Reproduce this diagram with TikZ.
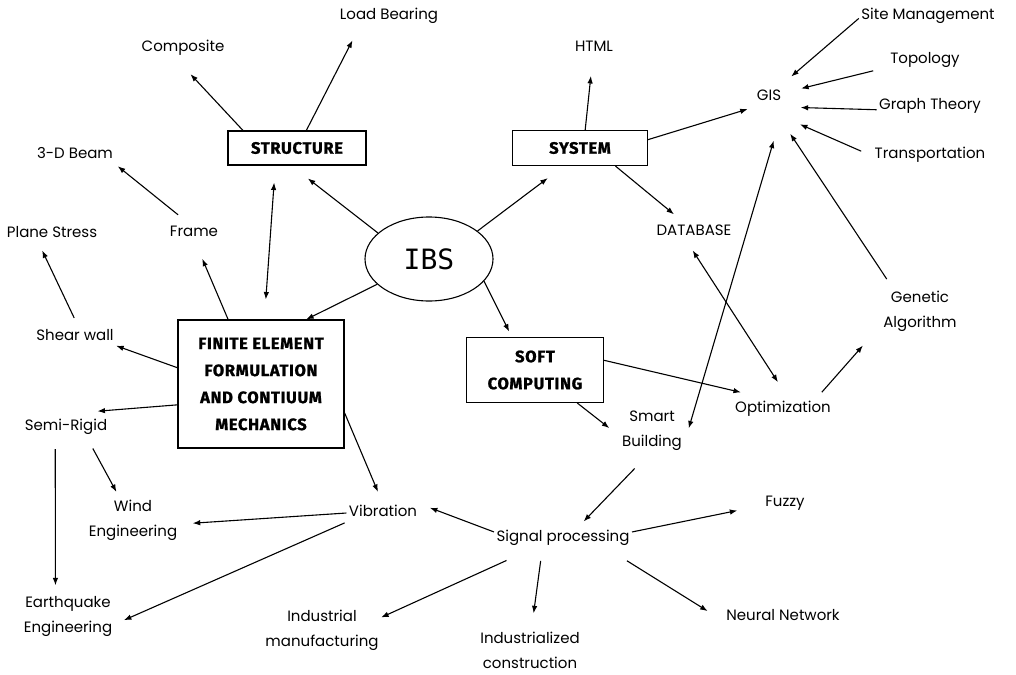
\documentclass[tikz,border=0pt]{standalone}
\usepackage{fontspec}
\setmainfont{Poppins}
\newfontfamily\boxfont[FakeBold=1.2,LetterSpace=4]{Fira Sans}
\newfontfamily\ibsfont{DejaVu Sans Mono}
\usetikzlibrary{arrows.meta,shapes.geometric}

\begin{document}
\begin{tikzpicture}[
    x=1pt, y=-1pt,
    >={Latex[length=7.5pt,width=5.5pt]},
    line width=1.1pt,
    lbl/.style={
        font=\fontsize{15}{25}\selectfont,
        inner sep=2pt,
        text height=11pt,
        text depth=4pt
    },
    lbltwo/.style={
        font=\fontsize{15}{25}\selectfont,
        inner sep=2pt,
        align=center
    },
    box/.style={
        draw,
        rectangle,
        font=\boxfont\fontsize{16.5}{27}\selectfont\bfseries,
        align=center,
        inner sep=0pt
    },
    link/.style={->}
    ]
    \useasboundingbox (0,0) rectangle (1016,674);

    % centre
    \node[draw, ellipse, minimum width=128pt, minimum height=84pt,
          font=\ibsfont\fontsize{28}{30}\selectfont] (IBS) at (429,259) {IBS};

    \node[box, minimum width=138pt, minimum height=34pt] (STRUCT) at (297,148) {STRUCTURE};
    \node[box, minimum width=135pt, minimum height=35pt] (SYSTEM) at (580,148) {SYSTEM};
    \node[box, minimum width=166pt, minimum height=128pt] (FEM) at (261,384)
        {FINITE ELEMENT\\FORMULATION\\AND CONTIUUM\\MECHANICS};
    \node[box, minimum width=137pt, minimum height=65pt] (SOFT) at (535,370) {SOFT\\COMPUTING};

    \node[lbl] (LOAD)   at (389,16)  {Load Bearing};
    \node[lbl] (COMP)   at (183,48)  {Composite};
    \node[lbl] (HTML)   at (594,48)  {HTML};
    \node[lbl] (SITE)   at (928,16)  {Site Management};
    \node[lbl] (TOPO)   at (925,60)  {Topology};
    \node[lbl] (GIS)    at (769,97)  {GIS};
    \node[lbl] (GRAPH)  at (930,106) {Graph Theory};
    \node[lbl] (TRANS)  at (930,155) {Transportation};
    \node[lbl] (BEAM)   at (75,155)  {3-D Beam};
    \node[lbl] (PLANE)  at (52,234)  {Plane Stress};
    \node[lbl] (FRAME)  at (194,233) {Frame};
    \node[lbl] (DBASE)  at (694,232) {DATABASE};
    \node[lbltwo] (GENETIC) at (920,311) {Genetic\\Algorithm};
    \node[lbl] (SHEAR)  at (75,337)  {Shear wall};
    \node[lbl] (SEMI)   at (66,427)  {Semi-Rigid};
    \node[lbltwo] (SMART) at (652,431) {Smart\\Building};
    \node[lbl] (OPTIM)  at (783,409) {Optimization};
    \node[lbltwo] (WIND) at (133,520) {Wind\\Engineering};
    \node[lbl] (VIB)    at (383,513) {Vibration};
    \node[lbl] (FUZZY)  at (785,503) {Fuzzy};
    \node[lbl] (SIGNAL) at (563,538) {Signal processing};
    \node[lbltwo] (QUAKE)  at (68,616)  {Earthquake\\Engineering};
    \node[lbltwo] (INDMAN) at (322,630) {Industrial\\manufacturing};
    \node[lbltwo] (INDCON) at (530,650) {Industrialized\\construction};
    \node[lbl] (NEURAL) at (783,617) {Neural Network};

    % from the centre
    \draw[link, shorten >=21pt] (IBS.153) -- (STRUCT.-108);
    \draw[link, shorten >=20pt] (IBS.30) -- (SYSTEM.-132);
    \draw[link] (IBS.-154) -- (FEM.55);
    \draw[link, shorten >=6pt] (IBS.-22) -- (SOFT.125);

    % structure side
    \draw[<->, shorten <=17pt, shorten >=20pt] (STRUCT.-141) -- (FEM.87);
    \draw[link, shorten >=22pt] (STRUCT.162) -- (COMP.-127);
    \draw[link, shorten >=16pt] (STRUCT.62) -- (LOAD.-161);
    \draw[link, shorten <=13pt, shorten >=3pt] (FRAME.120) -- (BEAM.-13);
    \draw[link, shorten >=17pt] (FEM.117) -- (FRAME.-81);
    \draw[link, shorten <=10pt, shorten >=7pt] (SHEAR.71) -- (PLANE.-142);
    \draw[link] (FEM.169) -- (SHEAR.-12);
    \draw[link, shorten >=72pt] (FEM.-166) -- (SEMI.166);
    \draw[link, shorten <=13pt, shorten >=6pt] (SEMI.-26) -- (WIND.121);
    \draw[link, shorten <=12pt, shorten >=8pt] (SEMI.-137) -- (QUAKE.119);
    \draw[link, shorten >=12pt] (FEM.-19) -- (VIB.92);
    \draw[link, shorten >=13pt] (VIB.180) -- (WIND.-5);
    \draw[link, shorten <=2pt, shorten >=10pt] (VIB.-166) -- (QUAKE.-10);

    % signal processing
    \draw[link, shorten >=11pt] (SIGNAL.175) -- (VIB.14);
    \draw[link, shorten <=30pt] (SIGNAL.-161) -- (INDMAN.12);
    \draw[link, shorten <=13pt, shorten >=16pt] (SIGNAL.-154) -- (INDCON.86);
    \draw[link, shorten <=24pt, shorten >=19pt] (SIGNAL.-13) -- (NEURAL.-176);
    \draw[link, shorten >=26pt] (SIGNAL.5) -- (FUZZY.-174);
    \draw[link, shorten <=21pt, shorten >=9pt] (SMART.-97) -- (SIGNAL.35);

    % soft computing and system side
    \draw[link, shorten >=13pt] (SOFT.-38) -- (SMART.-171);
    \draw[link, shorten >=29pt] (SOFT.8) -- (OPTIM.144);
    \draw[link, shorten <=9pt, shorten >=27pt] (OPTIM.17) -- (GENETIC.-160);
    \draw[link, shorten <=11pt, shorten >=32pt] (GENETIC.140) -- (GIS.-71);
    \draw[<->, shorten <=15pt, shorten >=35pt] (SMART.-20) -- (GIS.south east);
    \draw[<->, shorten <=10pt, shorten >=20pt] (DBASE.-124) -- (OPTIM.60);
    \draw[link, shorten >=18pt] (SYSTEM.74) -- (HTML.-97);
    \draw[link, shorten >=7pt] (SYSTEM.7) -- (GIS.south west);
    \draw[link, shorten >=12pt] (SYSTEM.-27) -- (DBASE.137);

    % into GIS
    \draw[link, shorten >=16pt] (SITE.-178) -- (GIS.45);
    \draw[link, shorten <=15pt, shorten >=18pt] (TOPO.-169) -- (GIS.16);
    \draw[link, shorten >=17pt] (GRAPH.-176) -- (GIS.south east);
    \draw[link, shorten <=12pt, shorten >=43pt] (TRANS.-179) -- (GIS.-130);
\end{tikzpicture}
\end{document}
